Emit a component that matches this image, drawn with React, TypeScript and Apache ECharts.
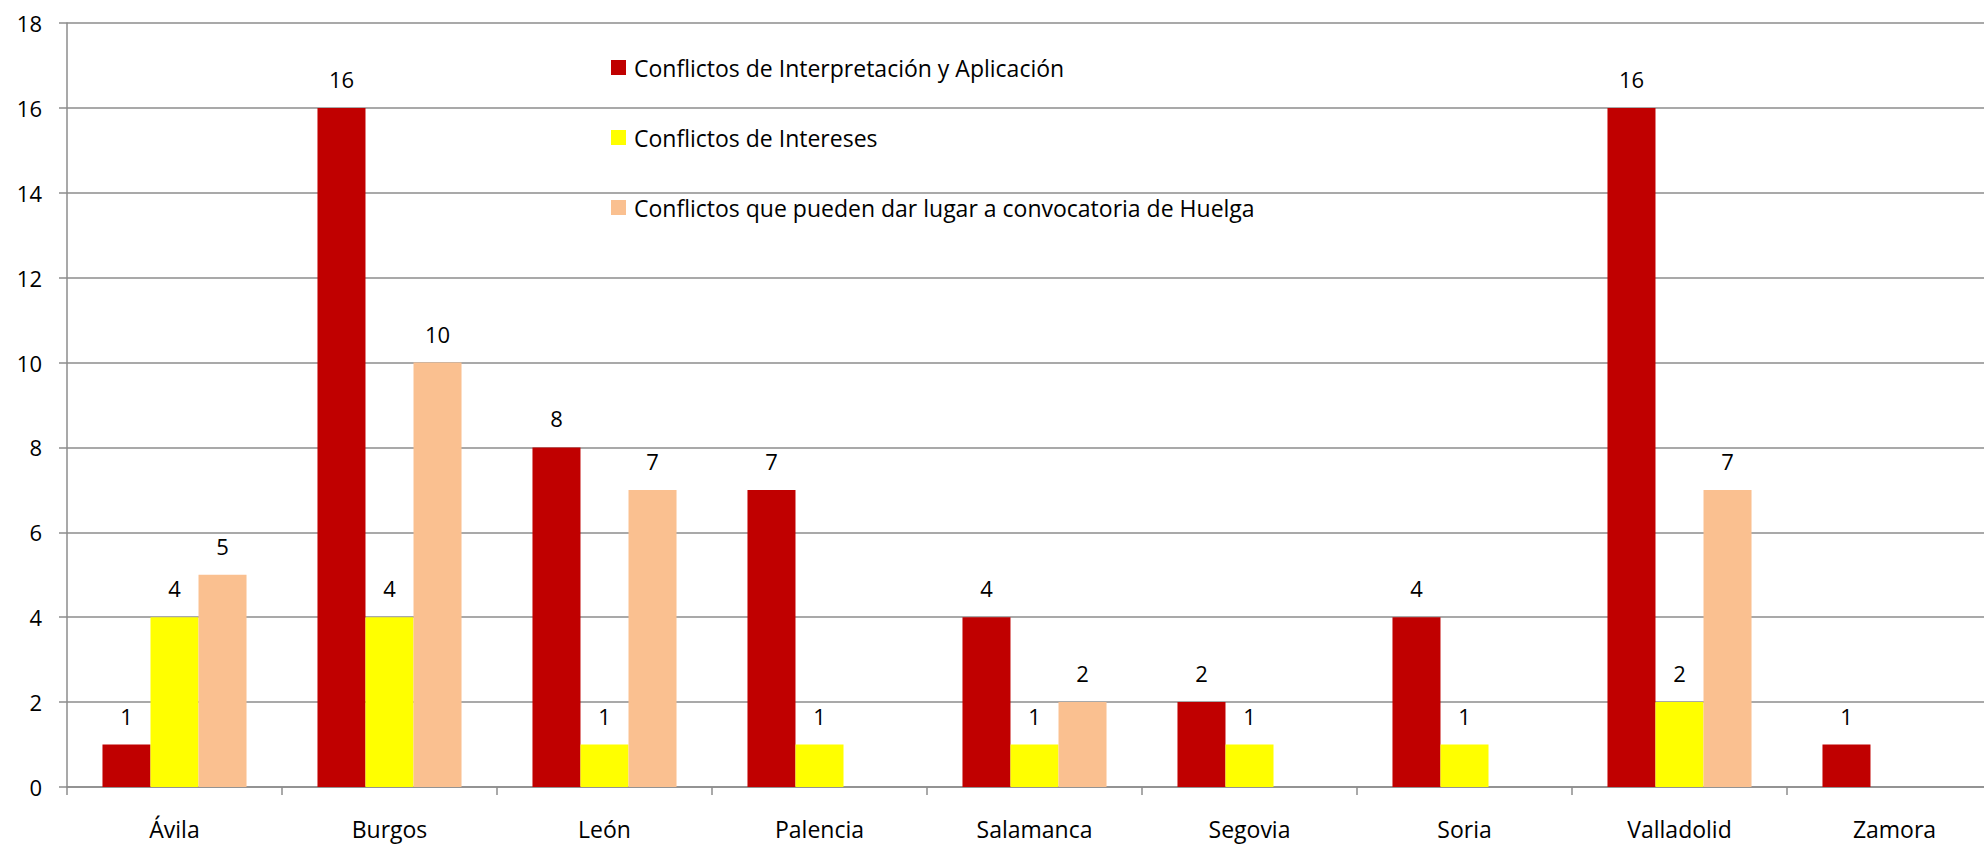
import React, { useEffect, useRef } from "react";
import * as echarts from "echarts";

const categories = ["Ávila", "Burgos", "León", "Palencia", "Salamanca", "Segovia", "Soria", "Valladolid", "Zamora"];
const seriesNames = [
  "Conflictos de Interpretación y Aplicación",
  "Conflictos de Intereses",
  "Conflictos que pueden dar lugar a convocatoria de Huelga",
];
const interpretacion = [1, 16, 8, 7, 4, 2, 4, 16, 1];
const intereses = [4, 4, 1, 1, 1, 1, 1, 2, null];
const huelga = [5, 10, 7, null, 2, null, null, 7, null];
const colors = ["#C00000", "#FFFF00", "#FAC090"];

const FONT = "'Open Sans', 'Noto Sans', sans-serif";

export default function App() {
  const ref = useRef<HTMLDivElement>(null);
  useEffect(() => {
    if (!ref.current) return;
    const chart = echarts.init(ref.current, null, { renderer: "svg" });
    const values = [interpretacion, intereses, huelga];
    chart.setOption({
      animation: false,
      backgroundColor: "#ffffff",
      textStyle: { fontFamily: FONT },
      grid: { left: 67, top: 23, bottom: 57, width: 1935, containLabel: false },
      legend: {
        orient: "vertical",
        left: 606,
        top: 49,
        itemWidth: 15,
        itemHeight: 15,
        itemGap: 43,
        icon: "rect",
        textStyle: { fontSize: 23, color: "#000", fontFamily: FONT, lineHeight: 27, padding: [0, 0, 0, 3] },
        data: seriesNames,
      },
      xAxis: {
        type: "category",
        data: categories,
        axisLine: { lineStyle: { color: "#8c8c8c", width: 1.5 } },
        axisTick: { show: true, length: 8, lineStyle: { color: "#8c8c8c", width: 1.5 } },
        axisLabel: { fontSize: 23, color: "#000", margin: 29, fontFamily: FONT, lineHeight: 26 },
      },
      yAxis: {
        type: "value",
        min: 0,
        max: 18,
        interval: 2,
        axisLine: { show: true, lineStyle: { color: "#8c8c8c", width: 1.5 } },
        axisTick: { show: true, length: 8, lineStyle: { color: "#8c8c8c", width: 1.5 } },
        axisLabel: { fontSize: 22, color: "#000", margin: 25, fontFamily: FONT },
        splitLine: { lineStyle: { color: "#8c8c8c", width: 1.5 } },
      },
      series: seriesNames.map((name, i) => ({
        name,
        type: "bar",
        data: values[i],
        barGap: "0%",
        barCategoryGap: "33%",
        itemStyle: { color: colors[i] },
        label: {
          show: true,
          position: "top",
          distance: 18,
          fontSize: 22,
          color: "#000",
          fontFamily: FONT,
        },
      })),
    });
    return () => chart.dispose();
  }, []);
  return (
    <div
      style={{ position: "absolute", left: 0, top: 0, width: 1984, height: 844, overflow: "hidden", background: "#fff" }}
    >
      <div ref={ref} style={{ width: 2010, height: 844 }} />
    </div>
  );
}
